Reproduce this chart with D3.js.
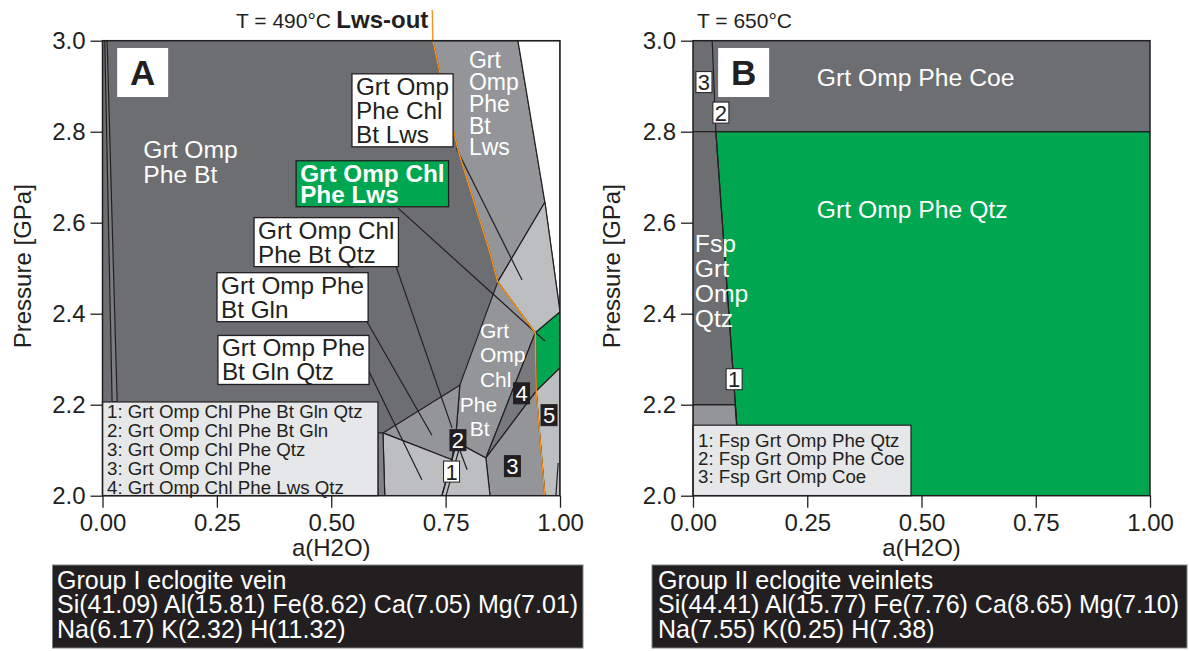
<!DOCTYPE html>
<html>
<head>
<meta charset="utf-8">
<script src="https://cdn.jsdelivr.net/npm/d3@7"></script>
<style>
  body { margin: 0; background: #fff; }
  svg { display: block; font-family: "Liberation Sans", Arial, Helvetica, sans-serif; }
</style>
</head>
<body>
<svg id="chart" width="1189" height="651"></svg>
<script>
// ---- axis ticks (same for both panels)
const xTicks = [0, 0.25, 0.5, 0.75, 1.0];
const yTicks = [2.0, 2.2, 2.4, 2.6, 2.8, 3.0];

// ---- panel A (490 °C) stability fields, vertices as [a(H2O), P GPa]
const fieldsA = [
    {name: "sliver", shade: "sliver", pts: [[0.005, 3.0], [0.010, 3.0], [0.032, 2.206], [0.021, 2.206]]},
    {name: "Grt Omp Phe Bt Lws", shade: "mid", pts: [[0.722, 3.0], [0.736, 2.936], [0.777, 2.760], [0.797, 2.694], [0.845, 2.540], [0.864, 2.470], [0.967, 2.645], [0.908, 3.0]]},
    {name: "corner", shade: "white", pts: [[0.908, 3.0], [1.0, 3.0], [1.0, 2.404], [0.967, 2.645]]},
    {name: "upper", shade: "light", pts: [[0.967, 2.645], [1.0, 2.404], [0.946, 2.358], [0.864, 2.470]]},
    {name: "Grt Omp Chl Phe Lws", shade: "green", pts: [[0.946, 2.358], [1.0, 2.404], [1.0, 2.281], [0.948, 2.230]]},
    {name: "5", shade: "light", pts: [[0.948, 2.230], [1.0, 2.281], [1.0, 2.0], [0.967, 2.0], [0.956, 2.129]]},
    {name: "Grt Omp Chl Phe Bt", shade: "mid", pts: [[0.864, 2.470], [0.946, 2.358], [0.838, 2.083], [0.788, 2.110], [0.773, 2.140], [0.781, 2.243]]},
    {name: "4", shade: "midDark", pts: [[0.838, 2.083], [0.946, 2.358], [0.948, 2.230]]},
    {name: "3", shade: "mid", pts: [[0.838, 2.083], [0.948, 2.230], [0.956, 2.129], [0.967, 2.0], [0.847, 2.0]]},
    {name: "Grt Omp Phe Bt Gln", shade: "mid", pts: [[0.613, 2.138], [0.781, 2.243], [0.773, 2.140], [0.764, 2.079]]},
    {name: "Grt Omp Phe Bt Gln Qtz", shade: "light", pts: [[0.613, 2.138], [0.764, 2.079], [0.742, 2.0], [0.617, 2.0]]},
    {name: "Grt Omp Chl Phe Qtz", shade: "light", pts: [[0.764, 2.079], [0.773, 2.140], [0.788, 2.110], [0.838, 2.083], [0.847, 2.0], [0.742, 2.0]]},
    {name: "strip", shade: "strip", pts: [[0.602, 2.138], [0.613, 2.138], [0.617, 2.0], [0.602, 2.0]]}
];
const boundsA = [
    [[0.742, 2.0], [0.770, 2.101]],
    [[0.751, 2.0], [0.779, 2.101]],
    [[0.996, 2.072], [0.991, 2.0]]
];
const lwsOut = [[0.721, 3.067], [0.722, 3.0], [0.736, 2.936], [0.777, 2.760], [0.797, 2.694], [0.845, 2.540], [0.864, 2.470], [0.946, 2.358], [0.948, 2.230], [0.956, 2.129], [0.967, 2.0]];
const leadersA = [
    [[0.773, 2.764], [0.917, 2.474]],
    [[0.646, 2.632], [0.967, 2.340]],
    [[0.642, 2.503], [0.764, 2.149]],
    [[0.576, 2.386], [0.720, 2.133]],
    [[0.583, 2.272], [0.698, 2.035]],
    [[0.777, 2.111], [0.797, 2.057]]
];
const fieldLabelsA = [
    {lines: ["Grt Omp", "Phe Bt"], at: [0.089, 2.742], style: "big"},
    {lines: ["Grt", "Omp", "Phe", "Bt", "Lws"], at: [0.801, 2.939], style: "stack"},
    {lines: ["Grt"], at: [0.825, 2.346], style: "small"},
    {lines: ["Omp"], at: [0.825, 2.294], style: "small"},
    {lines: ["Chl"], at: [0.825, 2.239], style: "small"},
    {lines: ["Phe"], at: [0.781, 2.184], style: "small"},
    {lines: ["Bt"], at: [0.803, 2.131], style: "small"}
];
const boxLabelsA = [
    {lines: ["Grt Omp", "Phe Chl", "Bt Lws"], at: [0.554, 2.881], kind: "plain"},
    {lines: ["Grt Omp Chl", "Phe Lws"], at: [0.432, 2.690], kind: "stable"},
    {lines: ["Grt Omp Chl", "Phe Bt Qtz"], at: [0.340, 2.565], kind: "plain"},
    {lines: ["Grt Omp Phe", "Bt Gln"], at: [0.259, 2.444], kind: "plain"},
    {lines: ["Grt Omp Phe", "Bt Gln Qtz"], at: [0.261, 2.306], kind: "plain"}
];
const tagsA = [
    {text: "1", at: [0.763, 2.053], kind: "open"},
    {text: "2", at: [0.777, 2.122], kind: "solid"},
    {text: "3", at: [0.896, 2.065], kind: "solid"},
    {text: "4", at: [0.916, 2.225], kind: "solid"},
    {text: "5", at: [0.976, 2.177], kind: "solid"}
];
const legendA = [
    "1: Grt Omp Chl Phe Bt Gln Qtz",
    "2: Grt Omp Chl Phe Bt Gln",
    "3: Grt Omp Chl Phe Qtz",
    "3: Grt Omp Chl Phe",
    "4: Grt Omp Chl Phe Lws Qtz"
];
const infoA = [
    "Group I eclogite vein",
    "Si(41.09) Al(15.81) Fe(8.62) Ca(7.05) Mg(7.01)",
    "Na(6.17) K(2.32) H(11.32)"
];

// ---- panel B (650 °C)
const fieldsB = [
    {name: "Grt Omp Phe Qtz", shade: "green", pts: [[0.050, 2.8], [1.0, 2.8], [1.0, 2.0], [0.107, 2.0]]},
    {name: "Fsp low", shade: "mid", pts: [[0.0, 2.2], [0.092, 2.2], [0.107, 2.0], [0.0, 2.0]]}
];
const boundsB = [
    [[0.042, 3.0], [0.050, 2.8], [0.107, 2.0]],
    [[0.0, 2.8], [1.0, 2.8]],
    [[0.0, 2.2], [0.092, 2.2]]
];
const fieldLabelsB = [
    {lines: ["Grt Omp Phe Coe"], at: [0.271, 2.900], style: "big"},
    {lines: ["Grt Omp Phe Qtz"], at: [0.271, 2.610], style: "big"},
    {lines: ["Fsp", "Grt", "Omp", "Qtz"], at: [0.004, 2.536], style: "big"}
];
const tagsB = [
    {text: "3", at: [0.024, 2.909], kind: "open"},
    {text: "2", at: [0.061, 2.842], kind: "open"},
    {text: "1", at: [0.090, 2.256], kind: "open"}
];
const legendB = [
    "1: Fsp Grt Omp Phe Qtz",
    "2: Fsp Grt Omp Phe Coe",
    "3: Fsp Grt Omp Coe"
];
const infoB = [
    "Group II eclogite veinlets",
    "Si(44.41) Al(15.77) Fe(7.76) Ca(8.65) Mg(7.10)",
    "Na(7.55) K(0.25) H(7.38)"
];

// ---- styles
const ink = "#231f20";
const shades = {
    dark: "#6d6e71", sliver: "#7c7d80", mid: "#939598", midDark: "#78797c",
    light: "#bcbec0", white: "#ffffff", green: "#00a650", strip: "#808285"
};
const labelStyles = {
    big: {size: 24.7, gap: 25},
    stack: {size: 23, gap: 21.7},
    small: {size: 21, gap: 25}
};

const svg = d3.select("#chart");

const panels = [
    {id: "A", left: 102.5, right: 560, top: 40.7, bottom: 495.7,
     fields: fieldsA, bounds: boundsA, leaders: leadersA, lws: lwsOut,
     fieldLabels: fieldLabelsA, boxLabels: boxLabelsA, tags: tagsA,
     legend: legendA, legendBox: [[0, 2.206], [0.602, 2.0]], legendPad: [4.5, 16, 19],
     letter: "A", letterAt: [0.032, 2.984],
     title: "T = 490°C", titleX: 236, yTitleX: 31,
     info: infoA, infoBox: [52.5, 565, 530.5, 83], infoX: 57},
    {id: "B", left: 693, right: 1150, top: 40.7, bottom: 495.7,
     fields: fieldsB, bounds: boundsB, leaders: [], lws: null,
     fieldLabels: fieldLabelsB, boxLabels: [], tags: tagsB,
     legend: legendB, legendBox: [[0, 2.155], [0.477, 2.0]], legendPad: [5, 21.5, 18.3],
     letter: "B", letterAt: [0.055, 2.984],
     title: "T = 650°C", titleX: 697, yTitleX: 620,
     info: infoB, infoBox: [652, 565, 535, 83], infoX: 658}
];

panels.forEach(drawPanel);

function drawPanel(p) {
    const x = d3.scaleLinear().domain([0, 1]).range([p.left, p.right]);
    const y = d3.scaleLinear().domain([2, 3]).range([p.bottom, p.top]);
    const line = d3.line().x(d => x(d[0])).y(d => y(d[1]));
    const g = svg.append("g").attr("class", "panel-" + p.id);

    // clip for the field polygons
    svg.append("clipPath").attr("id", "clip-" + p.id)
        .append("rect")
        .attr("x", p.left).attr("y", p.top)
        .attr("width", p.right - p.left).attr("height", p.bottom - p.top);

    const plot = g.append("g").attr("clip-path", `url(#clip-${p.id})`);

    plot.append("rect")
        .attr("x", p.left).attr("y", p.top)
        .attr("width", p.right - p.left).attr("height", p.bottom - p.top)
        .attr("fill", shades.dark);

    plot.selectAll("path.field")
        .data(p.fields)
        .join("path")
        .attr("class", "field")
        .attr("d", d => line(d.pts) + "Z")
        .attr("fill", d => shades[d.shade])
        .attr("stroke", ink)
        .attr("stroke-width", 1.2)
        .attr("stroke-linejoin", "round");

    plot.selectAll("path.bound")
        .data(p.bounds)
        .join("path")
        .attr("class", "bound")
        .attr("d", line)
        .attr("fill", "none")
        .attr("stroke", ink)
        .attr("stroke-width", 1.2);

    plot.selectAll("path.leader")
        .data(p.leaders)
        .join("path")
        .attr("class", "leader")
        .attr("d", line)
        .attr("fill", "none")
        .attr("stroke", ink)
        .attr("stroke-width", 1.2);

    // Lws-out reaction line runs above the frame, so no clip
    if (p.lws) {
        g.append("path")
            .attr("d", line(p.lws))
            .attr("fill", "none")
            .attr("stroke", "#f7941d")
            .attr("stroke-width", 1.4);
        g.append("text")
            .attr("x", x(p.lws[0][0]) - 4)
            .attr("y", 28.3)
            .attr("text-anchor", "end")
            .attr("font-size", 24)
            .attr("font-weight", "bold")
            .attr("fill", ink)
            .text("Lws-out");
    }

    // legend of the small numbered fields
    const lb = p.legendBox;
    const lg = g.append("g");
    lg.append("rect")
        .attr("x", x(lb[0][0])).attr("y", y(lb[0][1]))
        .attr("width", x(lb[1][0]) - x(lb[0][0]))
        .attr("height", y(lb[1][1]) - y(lb[0][1]))
        .attr("fill", "#e6e7e8")
        .attr("stroke", ink)
        .attr("stroke-width", 1.2);
    lg.selectAll("text")
        .data(p.legend)
        .join("text")
        .attr("x", x(lb[0][0]) + p.legendPad[0])
        .attr("y", (d, i) => y(lb[0][1]) + p.legendPad[1] + i * p.legendPad[2])
        .attr("font-size", 18.7)
        .attr("fill", ink)
        .text(d => d);

    // frame
    g.append("rect")
        .attr("x", p.left).attr("y", p.top)
        .attr("width", p.right - p.left).attr("height", p.bottom - p.top)
        .attr("fill", "none")
        .attr("stroke", ink)
        .attr("stroke-width", 1.5);

    // axes
    g.append("g")
        .attr("transform", `translate(0,${p.bottom})`)
        .call(d3.axisBottom(x).tickValues(xTicks).tickFormat(d3.format(".2f")).tickSize(12).tickPadding(6))
        .call(styleAxis);
    g.append("g")
        .attr("transform", `translate(${p.left},0)`)
        .call(d3.axisLeft(y).tickValues(yTicks).tickFormat(d3.format(".1f")).tickSize(12).tickPadding(5))
        .call(styleAxis);

    g.append("text")
        .attr("x", (p.left + p.right) / 2)
        .attr("y", 556)
        .attr("text-anchor", "middle")
        .attr("font-size", 24)
        .attr("fill", ink)
        .text("a(H2O)");
    g.append("text")
        .attr("transform", `translate(${p.yTitleX},${(p.top + p.bottom) / 2 - 2}) rotate(-90)`)
        .attr("text-anchor", "middle")
        .attr("font-size", 24)
        .attr("fill", ink)
        .text("Pressure [GPa]");
    g.append("text")
        .attr("x", p.titleX)
        .attr("y", 28)
        .attr("font-size", 21)
        .attr("fill", ink)
        .text(p.title);

    // white field names
    p.fieldLabels.forEach(function(d) {
        const st = labelStyles[d.style];
        const t = g.append("text")
            .attr("x", x(d.at[0]))
            .attr("y", y(d.at[1]))
            .attr("font-size", st.size)
            .attr("fill", "#fff");
        d.lines.forEach((s, i) => t.append("tspan").attr("x", x(d.at[0])).attr("dy", i ? st.gap : 0).text(s));
    });

    // boxed field names
    p.boxLabels.forEach(function(d) {
        const bold = d.kind === "stable";
        const gap = bold ? 21 : 24;
        const t = g.append("text")
            .attr("x", x(d.at[0]))
            .attr("y", y(d.at[1]))
            .attr("font-size", 24.3)
            .attr("font-weight", bold ? "bold" : "normal")
            .attr("fill", bold ? "#fff" : ink);
        d.lines.forEach((s, i) => t.append("tspan").attr("x", x(d.at[0])).attr("dy", i ? gap : 0).text(s));
        const b = t.node().getBBox();
        g.insert("rect", () => t.node())
            .attr("x", b.x - 4)
            .attr("y", b.y + 1)
            .attr("width", b.width + 8)
            .attr("height", b.height - 2)
            .attr("fill", bold ? shades.green : "#fff")
            .attr("stroke", ink)
            .attr("stroke-width", 1.3);
    });

    // numbered tags
    p.tags.forEach(function(d) {
        const solid = d.kind === "solid";
        g.append("rect")
            .attr("x", x(d.at[0]) - 8)
            .attr("y", y(d.at[1]) - 10.5)
            .attr("width", 16)
            .attr("height", 21)
            .attr("fill", solid ? ink : "#fff")
            .attr("stroke", ink)
            .attr("stroke-width", 1);
        g.append("text")
            .attr("x", x(d.at[0]))
            .attr("y", y(d.at[1]))
            .attr("dy", "0.36em")
            .attr("text-anchor", "middle")
            .attr("font-size", 22)
            .attr("fill", solid ? "#fff" : ink)
            .text(d.text);
    });

    // panel letter
    g.append("rect")
        .attr("x", x(p.letterAt[0]))
        .attr("y", y(p.letterAt[1]))
        .attr("width", 51)
        .attr("height", 49)
        .attr("fill", "#fff");
    g.append("text")
        .attr("x", x(p.letterAt[0]) + 25.5)
        .attr("y", y(p.letterAt[1]) + 37)
        .attr("text-anchor", "middle")
        .attr("font-size", 35)
        .attr("font-weight", "bold")
        .attr("fill", ink)
        .text(p.letter);

    // bulk composition box
    const ib = p.infoBox;
    g.append("rect")
        .attr("x", ib[0]).attr("y", ib[1])
        .attr("width", ib[2]).attr("height", ib[3])
        .attr("fill", ink)
        .attr("stroke", "#808285")
        .attr("stroke-width", 1);
    g.selectAll("text.info")
        .data(p.info)
        .join("text")
        .attr("class", "info")
        .attr("x", p.infoX)
        .attr("y", (d, i) => 589 + i * 24.3)
        .attr("font-size", 25)
        .attr("fill", "#fff")
        .text(d => d);
}

function styleAxis(g) {
    g.attr("font-family", null).attr("font-size", 24).style("color", ink);
    g.select(".domain").remove();
    g.selectAll(".tick line").attr("stroke-width", 1.3);
}
</script>
</body>
</html>
